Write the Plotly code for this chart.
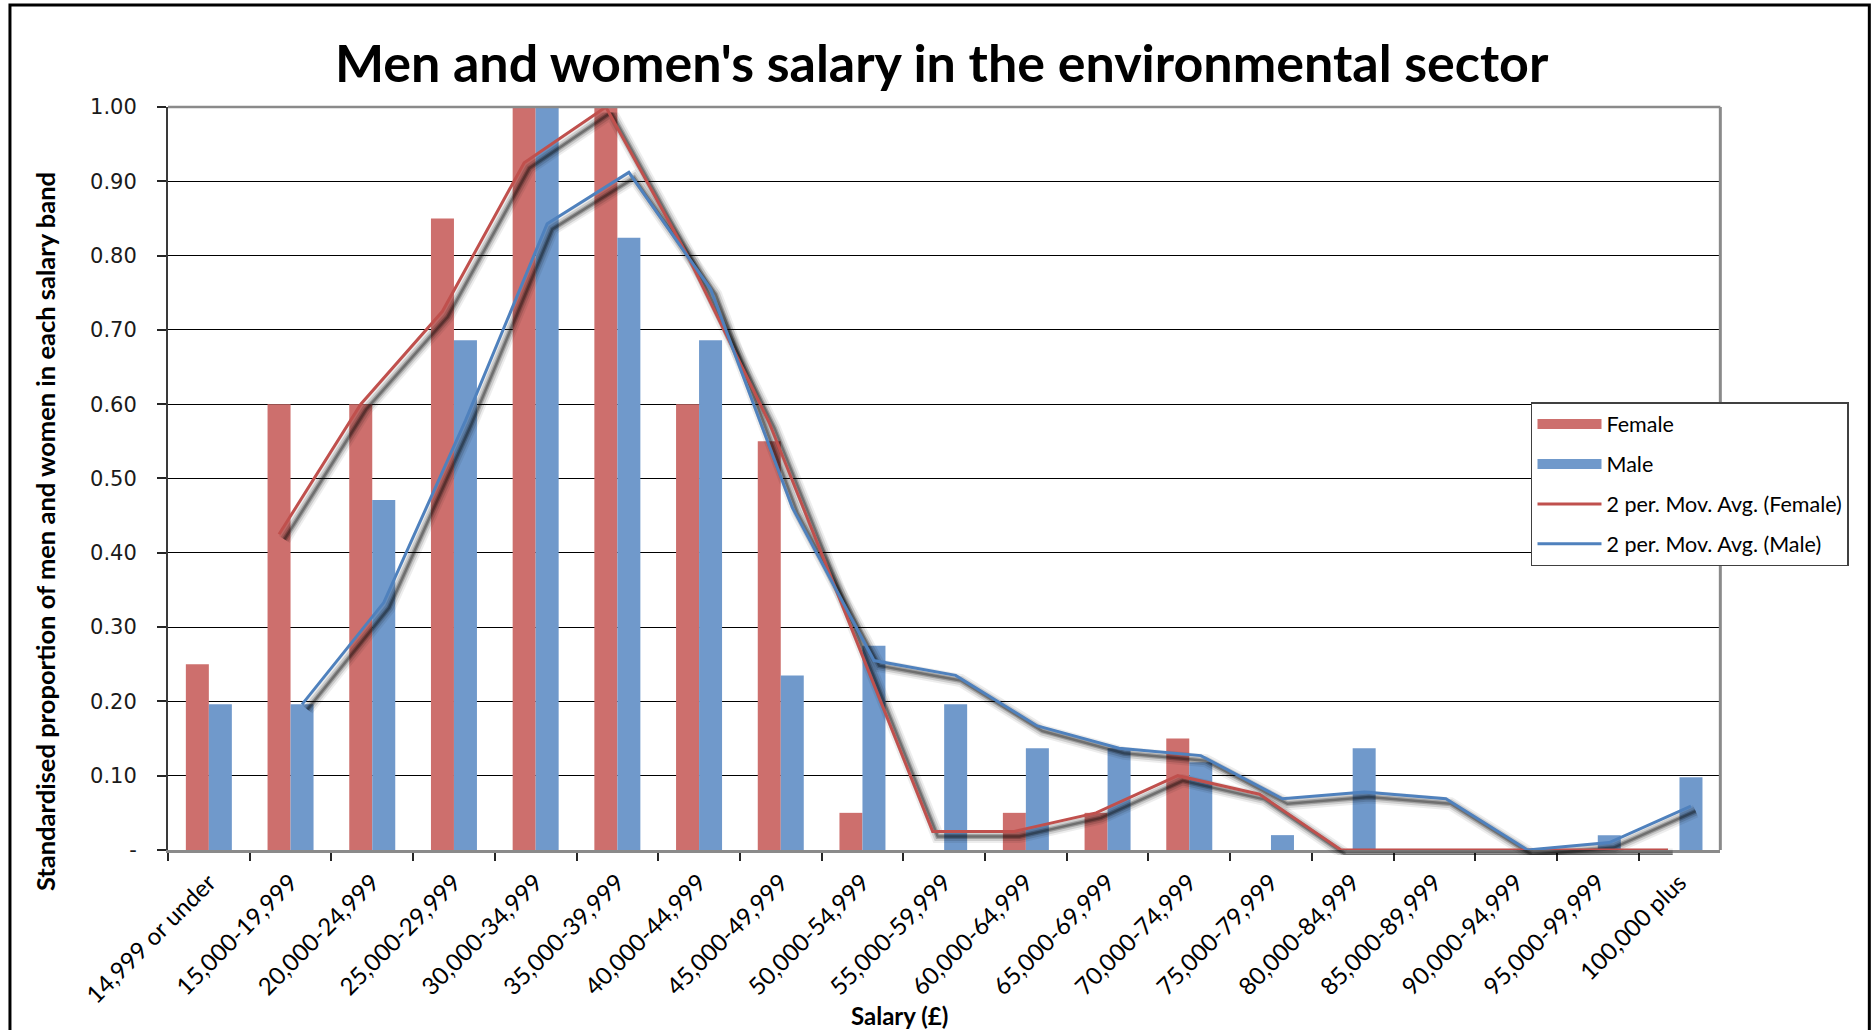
import plotly.graph_objects as go

categories = ["14,999 or under", "15,000-19,999", "20,000-24,999", "25,000-29,999",
              "30,000-34,999", "35,000-39,999", "40,000-44,999", "45,000-49,999",
              "50,000-54,999", "55,000-59,999", "60,000-64,999", "65,000-69,999",
              "70,000-74,999", "75,000-79,999", "80,000-84,999", "85,000-89,999",
              "90,000-94,999", "95,000-99,999", "100,000 plus"]

female = [0.25, 0.60, 0.60, 0.85, 1.00, 1.00, 0.60, 0.55, 0.05, 0.00,
          0.05, 0.05, 0.15, 0.00, 0.00, 0.00, 0.00, 0.00, 0.00]
male = [0.196, 0.196, 0.471, 0.686, 1.000, 0.824, 0.686, 0.235, 0.275, 0.196,
        0.137, 0.137, 0.118, 0.020, 0.137, 0.000, 0.000, 0.020, 0.098]

female_ma = [None, 0.425, 0.600, 0.725, 0.925, 1.000, 0.800, 0.575, 0.300, 0.025,
             0.025, 0.050, 0.100, 0.075, 0.000, 0.000, 0.000, 0.000, 0.000]
male_ma = [None, 0.196, 0.333, 0.578, 0.843, 0.912, 0.755, 0.461, 0.255, 0.235,
           0.167, 0.137, 0.127, 0.069, 0.078, 0.069, 0.000, 0.010, 0.059]

y_tickvals = [0.0, 0.1, 0.2, 0.3, 0.4, 0.5, 0.6, 0.7, 0.8, 0.9, 1.0]
y_ticktext = ["-", "0.10", "0.20", "0.30", "0.40", "0.50", "0.60", "0.70", "0.80", "0.90", "1.00"]

FEMALE_BAR = "#CD6F6D"
MALE_BAR = "#7099CB"
FEMALE_LINE = "#C0504D"
MALE_LINE = "#4F81BD"

fig = go.Figure()

# bars
fig.add_trace(go.Bar(x=categories, y=female, name="Female", marker=dict(color=FEMALE_BAR, line=dict(width=0)),
                     offsetgroup="f", showlegend=False, xaxis="x", yaxis="y"))
fig.add_trace(go.Bar(x=categories, y=male, name="Male", marker=dict(color=MALE_BAR, line=dict(width=0)),
                     offsetgroup="m", showlegend=False, xaxis="x", yaxis="y"))

# legend swatches for the bar series (wide rectangles like the original)
fig.add_trace(go.Scatter(x=[None], y=[None], mode="lines", name="Female", legendgroup="g1",
                         line=dict(color=FEMALE_BAR, width=14), xaxis="x", yaxis="y", hoverinfo="skip"))
fig.add_trace(go.Scatter(x=[None], y=[None], mode="lines", name="Male", legendgroup="g2",
                         line=dict(color=MALE_BAR, width=14), xaxis="x", yaxis="y", hoverinfo="skip"))

# shadows (on a slightly shifted subplot)
for width, alpha in [(13, 0.07), (9, 0.13), (5, 0.22), (2.5, 0.30)]:
    for ser, grp in [(female_ma, "f"), (male_ma, "m")]:
        fig.add_trace(go.Scatter(x=categories, y=ser, mode="lines", showlegend=False, hoverinfo="skip",
                                 line=dict(color=f"rgba(0,0,0,{alpha})", width=width),
                                 offsetgroup=grp, xaxis="x2", yaxis="y2"))

# moving average lines
fig.add_trace(go.Scatter(x=categories, y=female_ma, mode="lines", name="2 per. Mov. Avg. (Female)",
                         line=dict(color=FEMALE_LINE, width=3), offsetgroup="f", legendgroup="g3",
                         xaxis="x3", yaxis="y3"))
fig.add_trace(go.Scatter(x=categories, y=male_ma, mode="lines", name="2 per. Mov. Avg. (Male)",
                         line=dict(color=MALE_LINE, width=3), offsetgroup="m", legendgroup="g4",
                         xaxis="x3", yaxis="y3"))

XR = [-0.5, 18.5]
hidden_x = dict(type="category", range=XR, visible=False, showgrid=False, fixedrange=True)
hidden_y = dict(range=[0, 1], visible=False, showgrid=False, fixedrange=True)

fig.update_layout(
    width=1872, height=1030,
    margin=dict(l=168, r=147, t=107, b=175),
    paper_bgcolor="white", plot_bgcolor="rgba(0,0,0,0)",
    barmode="group", bargap=0.437, bargroupgap=0,
    scattermode="group", scattergap=0.437,
    showlegend=True,
    title=dict(text="Men and women's salary in the environmental sector",
               x=0.503, y=0.938, xanchor="center", yanchor="middle", xref="container", yref="container",
               font=dict(family="Lato", size=52, color="black", weight=700)),
    xaxis=dict(type="category", domain=[0, 0.997], range=XR, anchor="y",
               tickson="boundaries", ticks="outside", ticklen=8, tickwidth=1.5, tickcolor="#262626",
               showline=True, linecolor="#8a8a8a", linewidth=3, showgrid=False,
               tickangle=-45, ticklabelstandoff=6,
               tickfont=dict(family="Lato", size=24, color="black")),
    yaxis=dict(domain=[0.0067, 1], range=[0, 1], anchor="x",
               tickvals=y_tickvals, ticktext=y_ticktext,
               ticks="outside", ticklen=9, tickwidth=1.5, tickcolor="#262626",
               showline=True, linecolor="#3a3a3a", linewidth=2,
               showgrid=True, gridcolor="black", gridwidth=1, zeroline=False,
               ticklabelstandoff=16,
               tickfont=dict(family="DejaVu Sans", size=21, color="#1a1a1a")),
    xaxis2=dict(hidden_x, domain=[0.0035, 1], anchor="y2"),
    yaxis2=dict(hidden_y, domain=[0, 0.9926], anchor="x2"),
    xaxis3=dict(hidden_x, domain=[0, 0.997], anchor="y3"),
    yaxis3=dict(hidden_y, domain=[0.0067, 1], anchor="x3"),
    legend=dict(x=0.8754, y=0.6056, xanchor="left", yanchor="top",
                bgcolor="white", bordercolor="#404040", borderwidth=1.5,
                font=dict(family="Lato", size=21.5, color="black"),
                traceorder="grouped", tracegroupgap=9, itemwidth=64),
    annotations=[
        dict(text="Standardised proportion of men and women in each salary band",
             xref="paper", yref="paper", x=-0.079, y=0.433, textangle=-90,
             xanchor="center", yanchor="middle", showarrow=False,
             font=dict(family="Lato", size=25.5, color="black", weight=700)),
        dict(text="Salary (£)", xref="paper", yref="paper", x=0.4695, y=-0.214,
             xanchor="center", yanchor="middle", showarrow=False,
             font=dict(family="Lato", size=24, color="black", weight=700)),
    ],
    shapes=[
        dict(type="line", xref="x domain", yref="y domain", x0=0, x1=1, y0=1, y1=1,
             line=dict(color="#8a8a8a", width=2.5), layer="above"),
        dict(type="line", xref="x domain", yref="y domain", x0=1, x1=1, y0=0, y1=1,
             line=dict(color="#8a8a8a", width=3), layer="above"),
        dict(type="rect", xref="paper", yref="paper", x0=-0.1015, x1=1.0927, y0=-0.26, y1=1.1364,
             line=dict(color="black", width=3), layer="below"),
    ],
)

fig.write_html("out.html", config={"displayModeBar": False},
               post_script="document.body.style.margin='0';document.body.style.overflow='hidden';")
